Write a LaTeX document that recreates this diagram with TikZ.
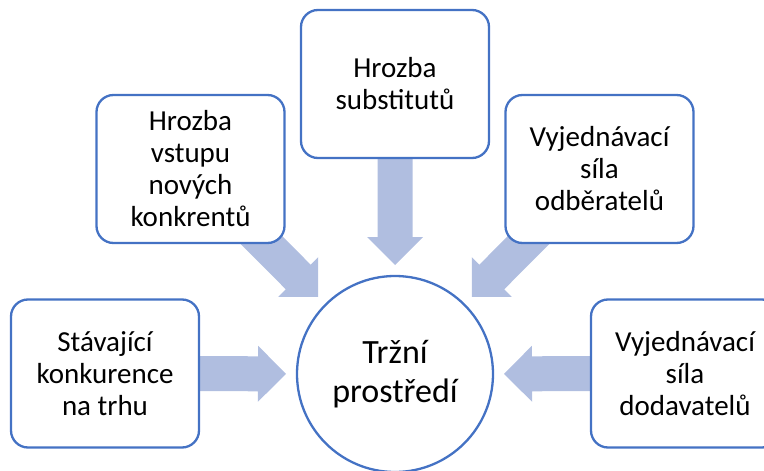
\documentclass[tikz,border=0pt]{standalone}
\usepackage{fontspec}
\setmainfont{Carlito}
\usetikzlibrary{calc,backgrounds}
\definecolor{boxblue}{HTML}{4472C4}
\definecolor{arrowfill}{HTML}{B0BEE0}
\tikzset{
  forcebox/.style={draw=boxblue, line width=2.3pt, fill=white, rounded corners=17pt,
    minimum width=188pt, minimum height=148pt, inner sep=0pt, align=center,
    font=\fontsize{29}{32}\selectfont},
  market/.style={circle, draw=boxblue, line width=2.3pt, fill=white,
    minimum size=196pt, inner sep=0pt, align=center,
    font=\fontsize{34}{39}\selectfont},
}
\newcommand\blockarrow[2]{%
  \path ($(#2.center)!109pt!(#1.center)$) coordinate (arrtip)
        ($(arrtip)!28pt!(#1.center)$) coordinate (arrbase)
        (#1.center) coordinate (arrstart);
  \fill[arrowfill] ($(arrstart)!17.5pt!90:(arrtip)$) -- ($(arrbase)!17.5pt!90:(arrtip)$)
    -- ($(arrbase)!28pt!90:(arrtip)$) -- (arrtip) -- ($(arrbase)!28pt!-90:(arrtip)$)
    -- ($(arrbase)!17.5pt!-90:(arrtip)$) -- ($(arrstart)!17.5pt!-90:(arrtip)$) -- cycle;}
\begin{document}
\begin{tikzpicture}[x=1pt,y=-1pt]
  \useasboundingbox (0,0) rectangle (764,471);
  \node[market] (c) at (395,374) {Tržní\\prostředí};
  \node[forcebox] (top) at (395,84) {Hrozba\\substitutů};
  \node[forcebox] (lu) at (190.5,169) {Hrozba\\vstupu\\nových\\konkrentů};
  \node[forcebox] (ru) at (599.5,169) {Vyjednávací\\síla\\odběratelů};
  \node[forcebox] (ll) at (105,373.5) {Stávající\\konkurence\\na trhu};
  \node[forcebox] (rl) at (685,373.5) {Vyjednávací\\síla\\dodavatelů};
  \begin{pgfonlayer}{background}
    \blockarrow{top}{c}
    \blockarrow{lu}{c}
    \blockarrow{ru}{c}
    \blockarrow{ll}{c}
    \blockarrow{rl}{c}
  \end{pgfonlayer}
\end{tikzpicture}
\end{document}
